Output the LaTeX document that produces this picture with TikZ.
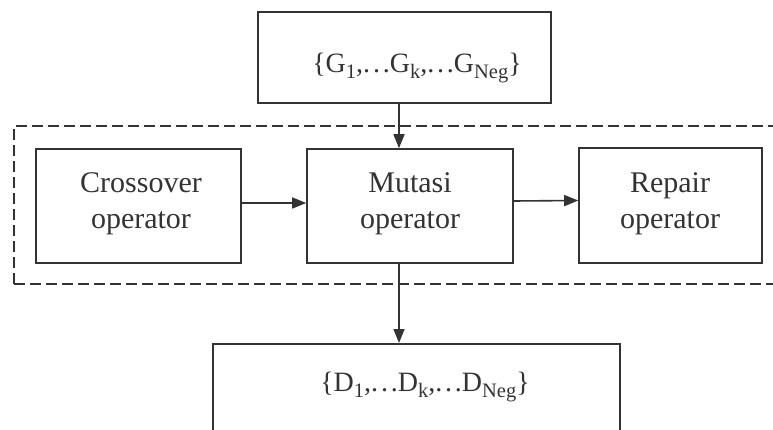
\documentclass[tikz,border=0pt]{standalone}
\usepackage{fontspec}
\setmainfont{Liberation Serif}
\usetikzlibrary{arrows.meta,calc}
\definecolor{ink}{HTML}{333333}
% lowered index and spaced ellipsis for the set labels
\newcommand{\idx}[1]{\raisebox{-0.22em}{\fontsize{20.5}{20.5}\selectfont #1}}
\newcommand{\dts}{.\kern2.8pt.\kern2.8pt.}
\tikzset{
  opbox/.style={draw=ink, line width=1.6pt, rectangle, inner sep=0pt},
  boxtext/.style={text=ink, align=center, font=\fontsize{30}{36}\selectfont},
  settext/.style={text=ink, font=\fontsize{28}{30}\selectfont},
  flow/.style={draw=ink, line width=1.6pt, -{Triangle[length=14pt,width=11pt]}},
  group/.style={draw=ink, line width=2.2pt, dash pattern=on 11pt off 5pt},
}
\begin{document}
\begin{tikzpicture}[x=1pt,y=-1pt]
\useasboundingbox (0,0) rectangle (773,430);
\clip (0,0) rectangle (773,430);
% operator group
\draw[group] (14,284) -- (14,126) -- (790,126);
\draw[group] (14,284) -- (790,284);
% boxes
\node[opbox, minimum width=293pt, minimum height=91pt] (gset) at (404.5,57.5) {};
\node[opbox, minimum width=205pt, minimum height=114pt] (cross) at (138.5,206) {};
\node[opbox, minimum width=206pt, minimum height=114pt] (mut) at (410,206) {};
\node[opbox, minimum width=183pt, minimum height=115pt] (rep) at (670.5,205.5) {};
\node[opbox, minimum width=407pt, minimum height=120pt, anchor=north west] (dset) at (212,343) {};
% labels
\node[settext] (gtxt) at (417,68) {\{G\idx{1},\dts G\idx{k},\dts G\idx{Neg}\}};
\node[settext] (dtxt) at (425,387) {\{D\idx{1},\dts D\idx{k},\dts D\idx{Neg}\}};
\node[boxtext] (crosstxt) at (141,204) {Crossover\\operator};
\node[boxtext] (muttxt) at (410,204) {Mutasi\\operator};
\node[boxtext] (reptxt) at (670,204) {Repair\\operator};
% connectors
\coordinate (xa) at (399,0);
\draw[flow] (gset.south -| xa) -- (mut.north -| xa);
\draw[flow] ([yshift=3pt]cross.east) -- ([yshift=3pt]mut.west);
\draw[flow] ([yshift=5pt]mut.east) -- ([yshift=5pt]rep.west);
\draw[flow] (mut.south -| xa) -- (dset.north -| xa);
\end{tikzpicture}
\end{document}
